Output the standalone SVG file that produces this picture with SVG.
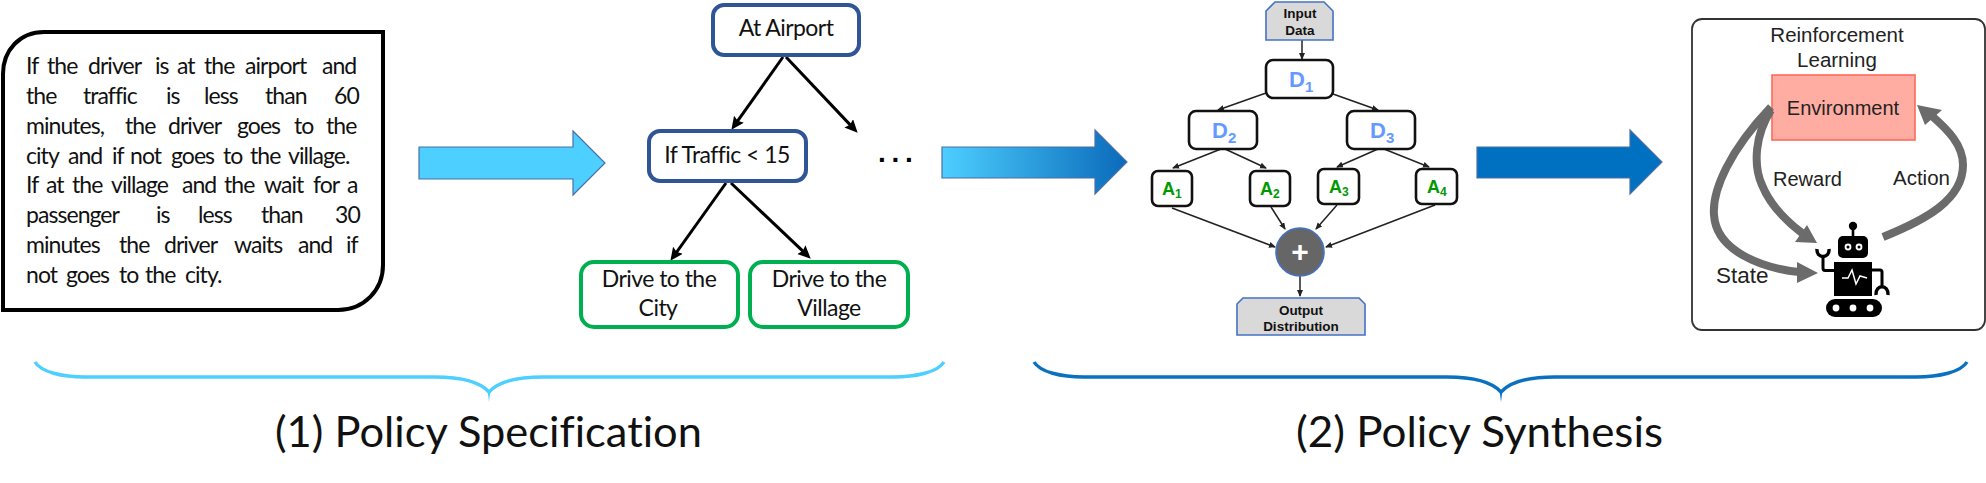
<svg xmlns="http://www.w3.org/2000/svg" width="1986" height="483" viewBox="0 0 1986 483">
<style>
text{font-family:"Liberation Sans",Arial,sans-serif;fill:#111}
.lato{font-family:Lato,"Liberation Sans",sans-serif;font-size:23px;letter-spacing:-.55px;fill:#111}
.body{font-family:Lato,"Liberation Sans",sans-serif;font-size:23px;letter-spacing:-.95px;fill:#111}
.cap{font-family:Lato,"Liberation Sans",sans-serif;font-size:43px;fill:#111;font-variant-ligatures:none}
.m{text-anchor:middle}
.blue{fill:#fff;stroke:#2F5597;stroke-width:4}
.green{fill:#fff;stroke:#00B050;stroke-width:4}
.dn{fill:#fff;stroke:#111;stroke-width:2.6}
.gray{fill:#D9D9D9;stroke:#4472C4;stroke-width:1.6}
.gt{font-weight:700;font-size:13.5px;text-anchor:middle}
.D{font-weight:700;font-size:22px;fill:#6699FF}
.A{font-weight:700;font-size:18px;fill:#009900}
.rl{font-size:20.5px;fill:#222}
.thick{fill:none;stroke:#000;stroke-width:3}
.thin{fill:none;stroke:#222;stroke-width:1.5}
.rlarrow{fill:none;stroke:#6B6B6B;stroke-width:8}
.big{stroke:#4A6FA8;stroke-width:1.2}
</style>
<defs>
<marker id="hb" markerUnits="userSpaceOnUse" markerWidth="14" markerHeight="13" refX="8" refY="6" orient="auto"><path d="M0,0L13,6L0,12L2,6Z" fill="#000"/></marker>
<marker id="hs" markerUnits="userSpaceOnUse" markerWidth="8" markerHeight="7" refX="6" refY="3" orient="auto"><path d="M0,0L7,3L0,6Z" fill="#222"/></marker>
<linearGradient id="g2" x1="0" x2="1" y1="0" y2="0"><stop offset="0" stop-color="#4DCFFF"/><stop offset="1" stop-color="#0A6ABA"/></linearGradient>
</defs>

<g id="spec-text">
<path d="M3,310V74C3,50 20,32 44,32H383V265C383,290 364,310 338,310Z" fill="#fff" stroke="#000" stroke-width="4"/>
<text class="body" y="74"><tspan x="26">If</tspan><tspan x="47">the</tspan><tspan x="88">driver</tspan><tspan x="155">is</tspan><tspan x="177">at</tspan><tspan x="204">the</tspan><tspan x="245">airport</tspan><tspan x="322">and</tspan></text>
<text class="body" y="104"><tspan x="26">the</tspan><tspan x="83">traffic</tspan><tspan x="166">is</tspan><tspan x="204">less</tspan><tspan x="265">than</tspan><tspan x="334">60</tspan></text>
<text class="body" y="134"><tspan x="26">minutes,</tspan><tspan x="125">the</tspan><tspan x="168">driver</tspan><tspan x="237">goes</tspan><tspan x="294">to</tspan><tspan x="326">the</tspan></text>
<text class="body" y="164"><tspan x="26">city</tspan><tspan x="68">and</tspan><tspan x="112">if</tspan><tspan x="130">not</tspan><tspan x="171">goes</tspan><tspan x="223">to</tspan><tspan x="250">the</tspan><tspan x="288">village.</tspan></text>
<text class="body" y="193"><tspan x="26">If</tspan><tspan x="46">at</tspan><tspan x="72">the</tspan><tspan x="111">village</tspan><tspan x="182">and</tspan><tspan x="224">the</tspan><tspan x="264">wait</tspan><tspan x="313">for</tspan><tspan x="347">a</tspan></text>
<text class="body" y="223"><tspan x="26">passenger</tspan><tspan x="156">is</tspan><tspan x="198">less</tspan><tspan x="261">than</tspan><tspan x="335">30</tspan></text>
<text class="body" y="253"><tspan x="26">minutes</tspan><tspan x="119">the</tspan><tspan x="164">driver</tspan><tspan x="234">waits</tspan><tspan x="298">and</tspan><tspan x="346">if</tspan></text>
<text class="body" y="283"><tspan x="26">not</tspan><tspan x="66">goes</tspan><tspan x="119">to</tspan><tspan x="145">the</tspan><tspan x="185">city.</tspan></text>
</g>

<g id="block-arrows">
<path class="big" d="M419,147H573V131L605,163L573,195V179H419Z" fill="#4DCFFF"/>
<path class="big" d="M942,147H1095V130L1127,162L1095,194V178H942Z" fill="url(#g2)"/>
<path class="big" d="M1477,147H1630V130L1662,162L1630,194V178H1477Z" fill="#0070C0"/>
</g>

<g id="connectors">
<path class="thick" marker-end="url(#hb)" d="M783,57L734.3,125.7"/>
<path class="thick" marker-end="url(#hb)" d="M786,57L854.2,129.1"/>
<path class="thick" marker-end="url(#hb)" d="M726,183L673.3,256.8"/>
<path class="thick" marker-end="url(#hb)" d="M731,183L807.1,255.2"/>
<path class="thin" marker-end="url(#hs)" d="M1302,40V59"/>
<path class="thin" marker-end="url(#hs)" d="M1266,93L1218,110"/>
<path class="thin" marker-end="url(#hs)" d="M1333,94L1378,110"/>
<path class="thin" marker-end="url(#hs)" d="M1221,149L1173,168"/>
<path class="thin" marker-end="url(#hs)" d="M1225,149L1266,168"/>
<path class="thin" marker-end="url(#hs)" d="M1378,149L1337,167"/>
<path class="thin" marker-end="url(#hs)" d="M1384,149L1429,167"/>
<path class="thin" marker-end="url(#hs)" d="M1172,208L1275,247"/>
<path class="thin" marker-end="url(#hs)" d="M1271,207L1285,229"/>
<path class="thin" marker-end="url(#hs)" d="M1337,205L1316,229"/>
<path class="thin" marker-end="url(#hs)" d="M1435,205L1326,247"/>
<path class="thin" marker-end="url(#hs)" d="M1300,276V296"/>
</g>

<g id="at-airport"><rect class="blue" x="713" y="5" width="146" height="50" rx="11"/><text class="lato m" x="786" y="36">At Airport</text></g>
<g id="if-traffic"><rect class="blue" x="649" y="131" width="157" height="50" rx="11"/><text class="lato m" x="727" y="163">If Traffic &lt; 15</text></g>
<g id="more"><text x="878" y="162" font-size="28" font-weight="700" letter-spacing="5.7" style="fill:#000">...</text></g>
<g id="drive-city"><rect class="green" x="581" y="262" width="157" height="65" rx="13"/><text class="lato m" x="659" y="287">Drive to the</text><text class="lato m" x="658" y="316">City</text></g>
<g id="drive-village"><rect class="green" x="750" y="262" width="158" height="65" rx="13"/><text class="lato m" x="829" y="287">Drive to the</text><text class="lato m" x="829" y="316">Village</text></g>

<g id="input-data"><path class="gray" d="M1275,2H1324L1333,11V40H1266V11Z"/><text class="gt" x="1300" y="18">Input</text><text class="gt" x="1300" y="35">Data</text></g>
<g id="d1"><rect class="dn" x="1266" y="60" width="67" height="38" rx="7"/><text class="D" x="1289" y="87">D<tspan font-size="15" dy="5">1</tspan></text></g>
<g id="d2"><rect class="dn" x="1189" y="111" width="68" height="38" rx="7"/><text class="D" x="1212" y="138">D<tspan font-size="15" dy="5">2</tspan></text></g>
<g id="d3"><rect class="dn" x="1347" y="111" width="68" height="38" rx="7"/><text class="D" x="1370" y="138">D<tspan font-size="15" dy="5">3</tspan></text></g>
<g id="a1"><rect class="dn" x="1152" y="171" width="40" height="35" rx="6"/><text class="A" x="1162" y="195">A<tspan font-size="12" dy="3">1</tspan></text></g>
<g id="a2"><rect class="dn" x="1250" y="171" width="40" height="35" rx="6"/><text class="A" x="1260" y="195">A<tspan font-size="12" dy="3">2</tspan></text></g>
<g id="a3"><rect class="dn" x="1318" y="169" width="41" height="35" rx="6"/><text class="A" x="1329" y="193">A<tspan font-size="12" dy="3">3</tspan></text></g>
<g id="a4"><rect class="dn" x="1416" y="169" width="41" height="35" rx="6"/><text class="A" x="1427" y="193">A<tspan font-size="12" dy="3">4</tspan></text></g>
<g id="plus"><circle cx="1300" cy="252" r="24" fill="#666" stroke="#4472C4" stroke-width="1.6"/><text x="1300" y="262" font-size="30" font-weight="700" text-anchor="middle" style="fill:#fff">+</text></g>
<g id="output"><path class="gray" d="M1243,298H1359L1365,304V335H1237V304Z"/><text class="gt" x="1301" y="315">Output</text><text class="gt" x="1301" y="331">Distribution</text></g>

<g id="rl">
<rect x="1692" y="19" width="293" height="311" rx="10" fill="#fff" stroke="#333" stroke-width="1.8"/>
<text class="rl m" x="1837" y="42">Reinforcement</text>
<text class="rl m" x="1837" y="67">Learning</text>
<g id="environment"><rect x="1772" y="75" width="143" height="65" fill="#FFADA3" stroke="#FF6A5A" stroke-width="1.6"/><text class="rl m" x="1843" y="115" style="font-size:20px">Environment</text></g>
<text class="rl" x="1773" y="186" style="font-size:20px">Reward</text>
<text class="rl" x="1893" y="185">Action</text>
<text class="rl" x="1716" y="283" style="font-size:22.5px">State</text>
<path class="rlarrow" d="M1771,107C1730,150 1712,190 1714,215C1716,250 1760,268 1799,272"/>
<path fill="#6B6B6B" d="M1818,273L1797,262V283Z"/>
<path class="rlarrow" d="M1771,110C1755,135 1753,165 1762,185C1770,205 1785,220 1802,233"/>
<path fill="#6B6B6B" d="M1817,243L1807,225L1795,242Z"/>
<path class="rlarrow" d="M1883,237C1925,220 1963,200 1963,165C1963,145 1948,130 1932,116"/>
<path fill="#6B6B6B" d="M1917,105L1942,110L1925,125Z"/>
</g>

<g id="robot">
<path d="M1853,226V238" stroke="#000" stroke-width="2.6"/><circle cx="1853" cy="226" r="4.2"/>
<rect x="1838" y="236" width="30" height="22" rx="5"/>
<circle cx="1848" cy="247" r="3.4" fill="#fff"/><circle cx="1848" cy="247" r="1.5"/>
<circle cx="1859" cy="247" r="3.4" fill="#fff"/><circle cx="1859" cy="247" r="1.5"/>
<rect x="1834" y="262" width="38" height="34"/>
<path d="M1842,278H1848L1852,270L1856,284L1860,276L1867,278" fill="none" stroke="#fff" stroke-width="1.5"/>
<path d="M1834,270.500H1825Q1823,270.500 1823,268V255" fill="none" stroke="#000" stroke-width="3"/>
<path d="M1817,249C1816,259 1830,259 1829,249" fill="none" stroke="#000" stroke-width="3.4"/>
<path d="M1872,270H1880Q1882,270 1882,272V286" fill="none" stroke="#000" stroke-width="3"/>
<path d="M1876,295C1875,284 1889,284 1888,295" fill="none" stroke="#000" stroke-width="3.4"/>
<rect x="1826" y="299" width="56" height="18" rx="9"/>
<circle cx="1836" cy="308" r="3.4" fill="#fff"/><circle cx="1853" cy="308" r="3.4" fill="#fff"/><circle cx="1870" cy="308" r="3.4" fill="#fff"/>
</g>

<g id="brace-1">
<path d="M35,362C41,372 62,377 85,377H435C462,377 480,382 489,392C498,382 516,377 543,377H893C916,377 938,372 944,362" fill="none" stroke="#4DCFFF" stroke-width="3.4"/>
<path d="M487.500,390L489,402L490.500,390Z" fill="#4DCFFF"/>
<text class="cap" x="275" y="447" textLength="427" lengthAdjust="spacingAndGlyphs">(1) Policy Specification</text>
</g>
<g id="brace-2">
<path d="M1034,362C1040,372 1061,377 1084,377H1447C1474,377 1492,382 1501,392C1510,382 1528,377 1555,377H1916C1939,377 1961,372 1967,362" fill="none" stroke="#0A70C0" stroke-width="3.4"/>
<path d="M1499.500,390L1501,402L1502.500,390Z" fill="#0A70C0"/>
<text class="cap" x="1296" y="447" textLength="367" lengthAdjust="spacingAndGlyphs">(2) Policy Synthesis</text>
</g>
</svg>
